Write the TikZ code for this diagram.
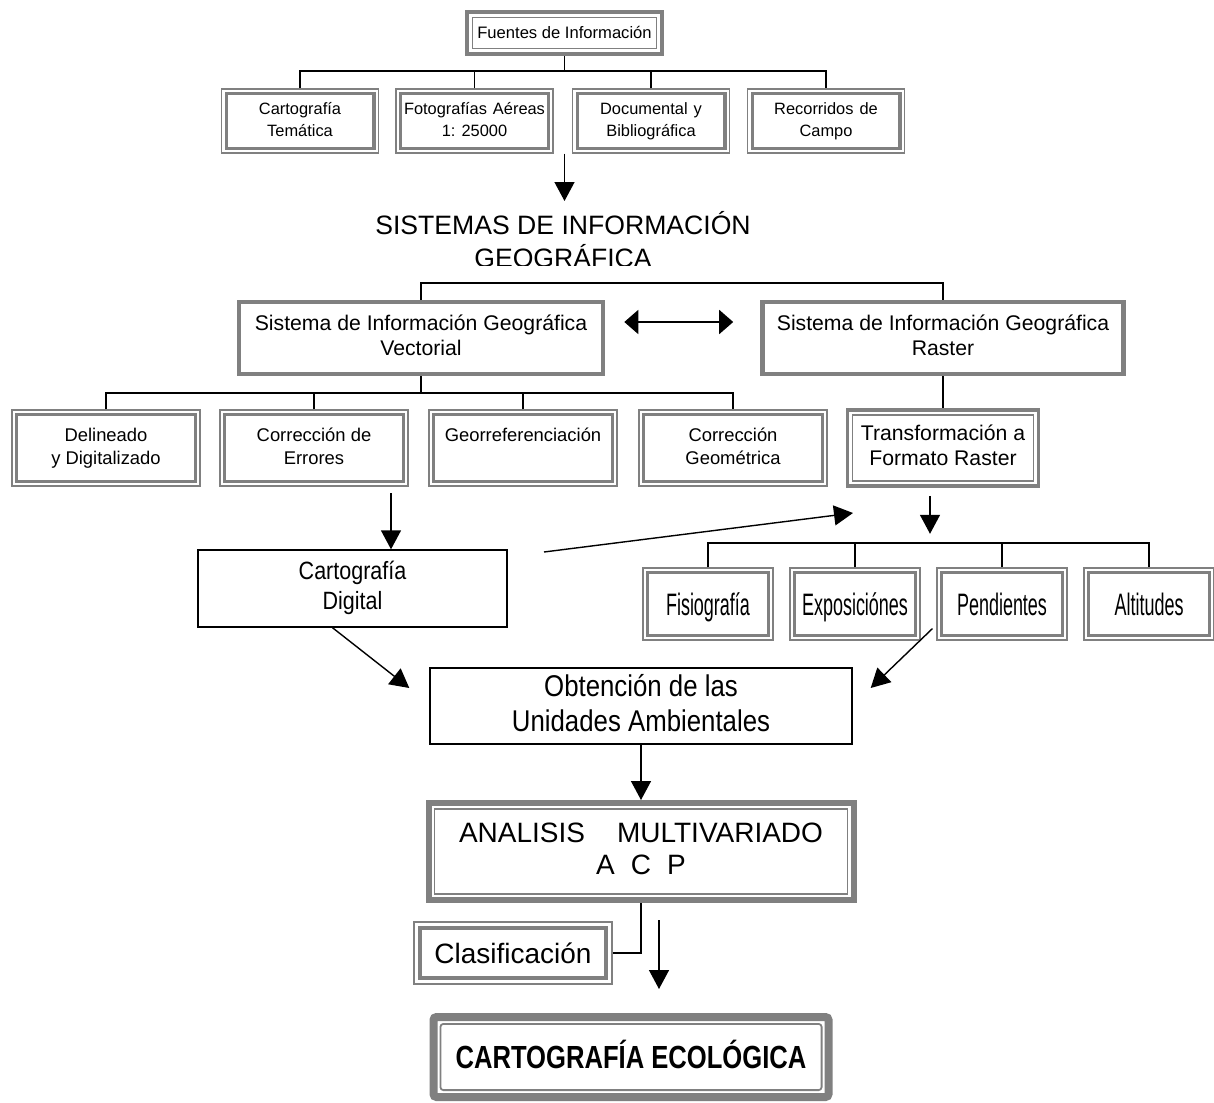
\documentclass[tikz,border=0pt]{standalone}
\usepackage{fontspec}
\setmainfont{Liberation Sans}
\newfontfamily\condfont[FakeStretch=0.86]{Liberation Sans}
\newfontfamily\narrowfont[FakeStretch=0.58]{Liberation Sans}
\newfontfamily\ecofont[FakeStretch=0.80]{Liberation Sans}
\usetikzlibrary{arrows.meta}
\definecolor{bxGray}{HTML}{808080}
\newcommand{\bxstrut}{\rule[-0.23em]{0pt}{1.18em}}

\begin{document}
\begin{tikzpicture}[
  x=0.5pt, y=-0.5pt, line width=0.7pt,
  dbl/.style n args={3}{draw=bxGray, line width=#1, align=center, inner sep=0pt,
      execute at begin node=\bxstrut, execute at end node=\bxstrut,
      path picture={\draw[bxGray, line width=#3]
        ([shift={(#2,-#2)}]path picture bounding box.north west) rectangle
        ([shift={(-#2,#2)}]path picture bounding box.south east);}},
  head/.style={dbl={2.25pt}{2.75pt}{0.75pt}, font=\fontsize{8.3}{11}\selectfont},
  src/.style={dbl={0.6pt}{2.3pt}{1.6pt}, minimum width=78.5pt, minimum height=32pt,
              font=\fontsize{8.2}{11}\selectfont},
  sig/.style={draw=bxGray, line width=2.3pt, align=center, inner sep=0pt,
              execute at begin node=\bxstrut, execute at end node=\bxstrut,
              minimum height=36pt, font=\fontsize{10.6}{12.5}\selectfont},
  proc/.style={dbl={0.6pt}{2.3pt}{1.6pt}, minimum width=94pt, minimum height=38pt,
               font=\fontsize{9.2}{11.5}\selectfont},
  lyr/.style={dbl={0.6pt}{2.3pt}{1.6pt}, minimum width=65pt, minimum height=36pt,
              font=\narrowfont\fontsize{15.5}{17}\selectfont},
  flat/.style={draw=black, line width=0.7pt, align=center, inner sep=0pt,
               execute at begin node=\bxstrut, execute at end node=\bxstrut},
  title/.style={align=center, inner sep=0pt, font=\fontsize{13.3}{16.5}\selectfont},
  arr/.style={-{Triangle[length=9.5pt,width=10pt]}},
  dblarr/.style={{Triangle[length=7pt,width=12pt]}-{Triangle[length=7pt,width=12pt]}, line width=0.9pt},
]
\path[use as bounding box, fill=white] (0,0) rectangle (1214,1102);

% ── Sources ──────────────────────────────────────────────────────────────────
\node[head, minimum width=97.5pt, minimum height=21pt] (fuentes) at (564.5,33) {Fuentes de Información};
\node[src] (carto) at (300,121)   {Cartografía\\Temática};
\node[src] (foto)  at (474.5,121) {Fotografías\hspace{3pt}Aéreas\\1: 25000};
\node[src] (docu)  at (651,121)   {Documental\hspace{3pt}y\\Bibliográfica};
\node[src] (reco)  at (826,121)   {Recorridos\hspace{3pt}de\\Campo};

% ── GIS title (its last line cut off at the bottom) ──────────────────────────
\begin{scope}
  \clip (0,190) rectangle (1214,265);
  \node[title] (sistitle) at (563,239.5) {SISTEMAS DE INFORMACIÓN\\GEOGRÁFICA};
\end{scope}
\coordinate (sisIn) at (564.5,201);

% ── Vector and raster GIS ────────────────────────────────────────────────────
\node[sig, minimum width=182pt]   (vect) at (421,338) {Sistema de Información Geográfica\\Vectorial};
\node[sig, minimum width=180.5pt] (rast) at (943,338) {Sistema de Información Geográfica\\Raster};

\node[proc] (deli) at (106,448) {Delineado\\y Digitalizado};
\node[proc] (erro) at (314,448) {Corrección de\\Errores};
\node[proc] (geor) at (523,448) {Georreferenciación\\~};
\node[proc] (geom) at (733,448) {Corrección\\Geométrica};
\node[dbl={1.8pt}{2.5pt}{0.7pt}, minimum width=95.5pt, minimum height=38pt,
      font=\fontsize{10.6}{12.5}\selectfont] (trans) at (943,448) {Transformación a\\Formato Raster};

\node[flat, minimum width=154.5pt, minimum height=38.5pt,
      font=\condfont\fontsize{12.5}{15}\selectfont] (cdig) at (352.5,588.5) {Cartografía\\Digital};

\node[lyr] (fisi) at (708,604)  {Fisiografía};
\node[lyr] (expo) at (855,604)  {Exposiciónes};
\node[lyr] (pend) at (1002,604) {Pendientes};
\node[lyr] (alti) at (1149,604) {Altitudes};

% ── Environmental units and analysis ─────────────────────────────────────────
\node[flat, minimum width=211pt, minimum height=38pt,
      font=\condfont\fontsize{15}{17.5}\selectfont] (obte) at (641,706) {Obtención de las\\Unidades Ambientales};
\node[dbl={3pt}{2.9pt}{0.75pt}, minimum width=212.5pt, minimum height=48.5pt,
      font=\fontsize{14}{16}\selectfont] (anal) at (641,851.5)
      {ANALISIS\hspace{16pt}MULTIVARIADO\\A\hspace{8pt}C\hspace{8pt}P};
\node[dbl={0.75pt}{2.9pt}{2pt}, minimum width=99pt, minimum height=31pt,
      font=\fontsize{14}{16}\selectfont] (clas) at (513,953) {Clasificación};
\node[dbl={4pt}{3.45pt}{0.9pt}, rounded corners=1.5pt, minimum width=197.5pt, minimum height=40pt,
      font=\ecofont\bfseries\fontsize{16}{18}\selectfont] (ecol) at (631,1057) {CARTOGRAFÍA ECOLÓGICA};

% ── Connectors ───────────────────────────────────────────────────────────────
\coordinate (busA) at (564.5,71);
\draw (fuentes.south) -- (busA);
\draw (carto.north) |- (busA) -| (reco.north);
\foreach \n in {foto,docu}{ \draw (\n.north) -- (\n.north |- busA); }
\draw[arr] (sisIn |- foto.south) -- (sisIn);

\coordinate (busB) at (682,283);
\draw (vect.north) |- (busB) -| (rast.north);
\draw[dblarr] ([shift={(19,-16)}]vect.east) -- ([shift={(-27,-16)}]rast.west);

\coordinate (busC) at (421,393);
\draw (vect.south) -- (busC);
\draw (deli.north) |- (busC) -| (geom.north);
\foreach \n in {erro,geor}{ \draw (\n.north) -- (\n.north |- busC); }
\draw (rast.south) -- (trans.north);

\coordinate (errOut) at (391,493);
\draw[arr] (errOut) -- (errOut |- cdig.north);
\coordinate (dgA) at (544,552);
\coordinate (dgB) at (853,513);
\draw[arr] (dgA) -- (dgB);
\draw[arr] ([shift={(-13,8)}]trans.south) -- ([shift={(-13,46)}]trans.south);

\coordinate (busD) at (929,543);
\draw (fisi.north) |- (busD) -| (alti.north);
\foreach \n in {expo,pend}{ \draw (\n.north) -- (\n.north |- busD); }

\draw[arr] ([xshift=-10pt]cdig.south) -- ([shift={(-20,-18)}]obte.west);
\draw[arr] ([shift={(-4,-12)}]pend.south west) -- ([shift={(18,-18)}]obte.east);
\draw[arr] (obte.south) -- (anal.north);
\draw (anal.south) |- (clas.east);
\draw[arr] ([shift={(18,17)}]anal.south) -- ([shift={(28,-24)}]ecol.north);

\end{tikzpicture}
\end{document}
